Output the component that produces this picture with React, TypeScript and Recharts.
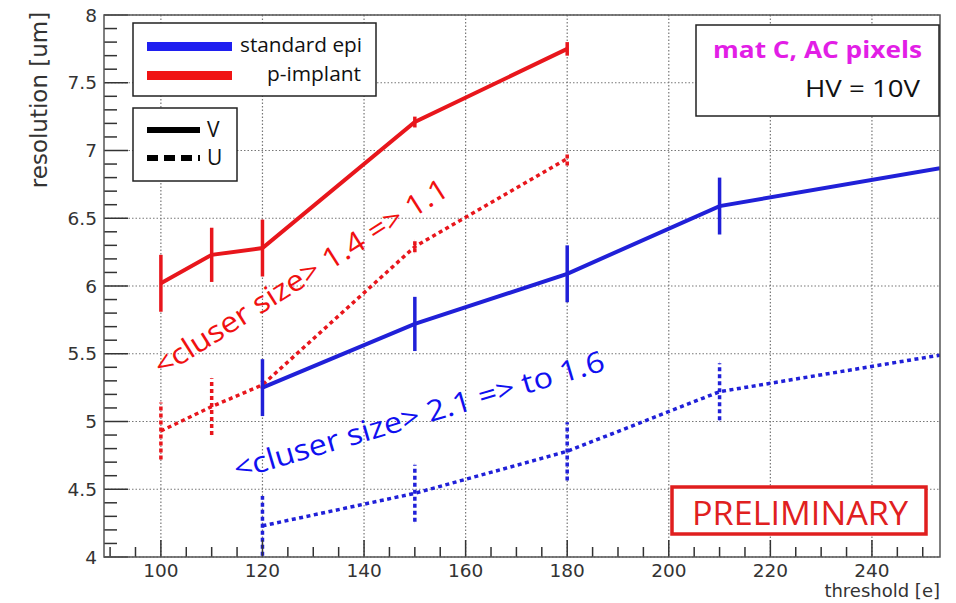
import { ComposedChart, Line, XAxis, YAxis, CartesianGrid, ErrorBar } from "recharts";

// threshold [e] on x, resolution [um] on y
const pImplantX = [100, 110, 120, 150, 180];
const pImplantV = [6.02, 6.23, 6.28, 7.21, 7.75];
const pImplantVErr = [0.21, 0.2, 0.21, 0.04, 0.05];
const pImplantU = [4.93, 5.11, 5.27, 6.29, 6.94];
const pImplantUErr = [0.21, 0.21, 0.03, 0.04, 0.05];

const stdEpiX = [120, 150, 180, 210, 253.4];
const stdEpiV = [5.25, 5.72, 6.09, 6.59, 6.87];
const stdEpiVErr = [0.21, 0.2, 0.21, 0.21, 0];
const stdEpiU = [4.23, 4.47, 4.78, 5.22, 5.49];
const stdEpiUErr = [0.22, 0.21, 0.215, 0.21, 0];

const xMajorTicks = [100, 120, 140, 160, 180, 200, 220, 240];
const yMajorTicks = [4, 4.5, 5, 5.5, 6, 6.5, 7, 7.5, 8];

const xAllTicks: number[] = [];
for (let v = 90; v <= 250; v += 5) xAllTicks.push(v);
const yAllTicks: number[] = [];
for (let i = 40; i <= 80; i++) yAllTicks.push(i / 10);

const RED = "#e8161c";
const BLUE = "#2020d8";
const TICK_FONT = "'DejaVu Sans', sans-serif";
const TEXT_FONT = "'Open Sans', sans-serif";

const toRows = (xs: number[], ys: number[], errs: number[]) =>
  xs.map((x, i) => ({ x, y: ys[i], err: errs[i] }));

const XTick = (props: any) => {
  const { x, y, payload } = props;
  const v = payload.value;
  const major = v % 20 === 0;
  return (
    <g>
      <line x1={x} x2={x} y1={y} y2={y - (major ? 17 : 10)} stroke="#333" strokeWidth={1.5} />
      {major && (
        <text x={x} y={y + 20} textAnchor="middle" fontFamily={TICK_FONT} fontSize={18.5} fill="#333">
          {v}
        </text>
      )}
    </g>
  );
};

const YTick = (props: any) => {
  const { x, y, payload } = props;
  const v = payload.value;
  const major = Math.abs(v * 2 - Math.round(v * 2)) < 1e-6;
  return (
    <g>
      <line x1={x} x2={x + (major ? 24 : 13)} y1={y} y2={y} stroke="#333" strokeWidth={1.5} />
      {major && (
        <text x={x - 7} y={y} dy="0.36em" textAnchor="end" fontFamily={TICK_FONT} fontSize={18.5} fill="#333">
          {String(v)}
        </text>
      )}
    </g>
  );
};

export default function App() {
  return (
    <div style={{ position: "relative", width: 956, height: 603, background: "#fff" }}>
      <style>{"body{margin:0}"}</style>
      <ComposedChart width={956} height={603} margin={{ top: 15, right: 16, bottom: 16, left: 44 }}>
        <CartesianGrid
          stroke="#777"
          strokeWidth={1.2}
          strokeDasharray="1.5 2"
          verticalValues={xMajorTicks}
          horizontalValues={yMajorTicks}
        />
        <XAxis
          type="number"
          dataKey="x"
          domain={[88.8, 253.4]}
          ticks={xAllTicks}
          interval={0}
          allowDataOverflow
          tick={(p: any) => <XTick {...p} />}
          tickLine={false}
          tickSize={0}
          tickMargin={0}
          axisLine={false}
          height={30}
        />
        <YAxis
          type="number"
          domain={[4, 8]}
          ticks={yAllTicks}
          interval={0}
          allowDataOverflow
          tick={(p: any) => <YTick {...p} />}
          tickLine={false}
          tickSize={0}
          tickMargin={0}
          axisLine={false}
          width={60}
        />
        <Line
          data={toRows(pImplantX, pImplantU, pImplantUErr)}
          dataKey="y"
          stroke={RED}
          strokeWidth={3.5}
          strokeDasharray="4 3.5"
          dot={false}
          isAnimationActive={false}
        >
          <ErrorBar dataKey="err" width={0} stroke={RED} strokeWidth={3.5} strokeDasharray="4 3" />
        </Line>
        <Line
          data={toRows(pImplantX, pImplantV, pImplantVErr)}
          dataKey="y"
          stroke={RED}
          strokeWidth={4}
          dot={false}
          isAnimationActive={false}
        >
          <ErrorBar dataKey="err" width={0} stroke={RED} strokeWidth={3.5} />
        </Line>
        <Line
          data={toRows(stdEpiX, stdEpiU, stdEpiUErr)}
          dataKey="y"
          stroke={BLUE}
          strokeWidth={3.5}
          strokeDasharray="4 3.5"
          dot={false}
          isAnimationActive={false}
        >
          <ErrorBar dataKey="err" width={0} stroke={BLUE} strokeWidth={3.5} strokeDasharray="4 3" />
        </Line>
        <Line
          data={toRows(stdEpiX, stdEpiV, stdEpiVErr)}
          dataKey="y"
          stroke={BLUE}
          strokeWidth={4}
          dot={false}
          isAnimationActive={false}
        >
          <ErrorBar dataKey="err" width={0} stroke={BLUE} strokeWidth={3.5} />
        </Line>
      </ComposedChart>

      <svg
        width={956}
        height={603}
        style={{ position: "absolute", left: 0, top: 0, pointerEvents: "none" }}
      >
        {/* frame */}
        <rect x={104} y={15} width={836} height={542} fill="none" stroke="#555" strokeWidth={1.5} />

        {/* axis titles */}
        <text
          x={39}
          y={100}
          transform="rotate(-90 39 100)"
          textAnchor="middle"
          dy="0.35em"
          fontFamily={TICK_FONT}
          fontSize={23}
          fill="#333"
        >
          resolution [um]
        </text>
        <text x={940} y={597} textAnchor="end" fontFamily={TICK_FONT} fontSize={18} fill="#333">
          threshold [e]
        </text>

        {/* colour legend */}
        <rect x={133} y={23} width={243} height={73} fill="#fff" stroke="#222" strokeWidth={1.5} />
        <rect x={147} y={42} width={85} height={9} fill="#1f1ff0" />
        <rect x={147} y={71} width={85} height={9} fill="#f01414" />
        <text x={240} y={52} fontFamily={TEXT_FONT} fontSize={19.5} fill="#111" textLength={122} lengthAdjust="spacingAndGlyphs">
          standard epi
        </text>
        <text x={267} y={81} fontFamily={TEXT_FONT} fontSize={19.5} fill="#111" textLength={94} lengthAdjust="spacingAndGlyphs">
          p-implant
        </text>

        {/* line-style legend */}
        <rect x={133} y={108} width={104} height={73} fill="#fff" stroke="#222" strokeWidth={1.5} />
        <line x1={147} x2={200} y1={130} y2={130} stroke="#000" strokeWidth={6} />
        <line x1={147} x2={200} y1={158} y2={158} stroke="#000" strokeWidth={6} strokeDasharray="11 6" />
        <text x={207} y={137} fontFamily={TEXT_FONT} fontSize={21} fill="#111">V</text>
        <text x={207} y={165} fontFamily={TEXT_FONT} fontSize={21} fill="#111">U</text>

        {/* info box */}
        <rect x={696} y={25} width={243} height={91} fill="#fff" stroke="#222" strokeWidth={1.5} />
        <text x={713} y={58} fontFamily={TEXT_FONT} fontWeight={700} fontSize={23} fill="#e21ee6" textLength={209} lengthAdjust="spacingAndGlyphs">
          mat C, AC pixels
        </text>
        <text x={805} y={97} fontFamily={TEXT_FONT} fontSize={23} fill="#111" textLength={115} lengthAdjust="spacingAndGlyphs">
          HV = 10V
        </text>

        {/* preliminary stamp */}
        <rect x={672} y={487} width={254} height={47} fill="#fff" stroke="#e01e1e" strokeWidth={3.5} />
        <text x={692} y={525} fontFamily={TEXT_FONT} fontSize={32} fill="#e02020" textLength={216} lengthAdjust="spacingAndGlyphs">
          PRELIMINARY
        </text>

        {/* annotations */}
        <text
          x={301}
          y={277}
          transform="rotate(-32.3 301 277)"
          textAnchor="middle"
          dy="0.35em"
          fontFamily={TEXT_FONT}
          fontSize={29}
          fill="#f01010"
          textLength={342}
          lengthAdjust="spacingAndGlyphs"
        >
          {"<cluser size> 1.4 => 1.1"}
        </text>
        <text
          x={419}
          y={415}
          transform="rotate(-16.5 419 415)"
          textAnchor="middle"
          dy="0.35em"
          fontFamily={TEXT_FONT}
          fontSize={29}
          fill="#1010f0"
          textLength={385}
          lengthAdjust="spacingAndGlyphs"
        >
          {"<cluser size> 2.1 => to 1.6"}
        </text>
      </svg>
    </div>
  );
}
